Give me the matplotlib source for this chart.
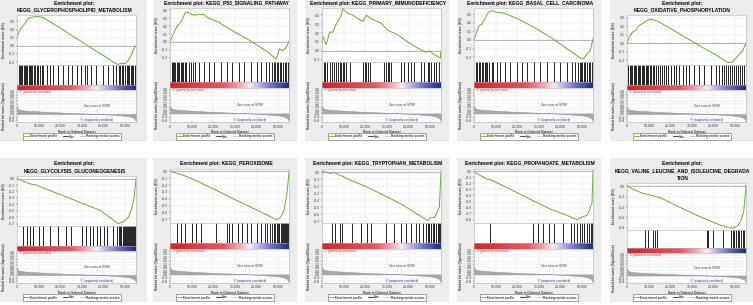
import matplotlib
matplotlib.use("Agg")
import matplotlib.pyplot as plt
from matplotlib.colors import LinearSegmentedColormap
from matplotlib.patches import Rectangle
from matplotlib.lines import Line2D
from matplotlib.ticker import MultipleLocator, FormatStrFormatter, StrMethodFormatter
import numpy as np

W, H = 753, 305
N_GENES = 55000
ZERO_CROSS = 36968

# shared ranked list metric (same dataset in every panel)
metric_rank = [0, 300, 1000, 3000, 6000, 10000, 15000, 20000, 25000, 30000,
               35000, 36968, 40000, 45000, 50000, 52000, 54000, 55000]
metric_value = [0.95, 0.7, 0.55, 0.45, 0.38, 0.32, 0.25, 0.19, 0.13, 0.08,
                0.03, 0.0, -0.04, -0.12, -0.22, -0.3, -0.5, -0.85]

# --- panel data: running enrichment score + hit positions ---
title_1 = "Enrichment plot:\nKEGG_GLYCEROPHOSPHOLIPID_METABOLISM"
es_rank_1 = [0, 800, 2000, 3500, 5000, 6500, 8000, 10000, 12000, 15000, 20000, 25000,
             30000, 35000, 40000, 44000, 46500, 48000, 50000, 51500, 53000, 54000, 55000]
es_1 = [0.10, 0.17, 0.22, 0.27, 0.33, 0.35, 0.36, 0.36, 0.35, 0.30, 0.22, 0.13,
        0.05, -0.04, -0.12, -0.19, -0.23, -0.215, -0.22, -0.18, -0.10, -0.03, 0.0]
hits_1 = [760, 1220, 1830, 2440, 3060, 3510, 4130, 4580, 5350, 5810, 6420, 7030, 7640,
          8250, 9170, 9930, 10700, 11460, 12220, 13750, 15280, 16810, 19100, 21390,
          23680, 25210, 27500, 29800, 31320, 32390, 34380, 36670, 39730, 42020, 44310,
          45840, 47060, 47670, 48590, 49200, 50120, 50730, 51340, 51950, 52720, 53170,
          53790, 54400]

title_2 = "Enrichment plot: KEGG_P53_SIGNALING_PATHWAY"
es_rank_2 = [0, 3100, 5450, 7000, 7800, 10900, 15600, 17100, 21800, 29600, 37400,
             45200, 49100, 50600, 52200, 53700, 55000]
es_2 = [0.01, 0.19, 0.27, 0.37, 0.38, 0.34, 0.35, 0.31, 0.26, 0.13, 0.01,
        -0.13, -0.22, -0.09, -0.11, -0.07, 0.01]
hits_2 = [780, 1250, 1870, 2490, 3120, 3740, 4360, 4990, 5610, 6230, 6860, 7480, 8570,
          9660, 10590, 11690, 13240, 15580, 17920, 20250, 23370, 26170, 28820, 31940,
          34280, 37390, 40200, 42070, 44400, 45960, 47050, 47990, 48610, 49230, 49860,
          50640, 51410, 52190, 52970, 53750, 54530]

title_3 = "Enrichment plot: KEGG_PRIMARY_IMMUNODEFICIENCY"
es_rank_3 = [0, 460, 2000, 3530, 5070, 5840, 7370, 8600, 9680, 11980, 14290, 16590,
             18890, 20430, 22730, 27340, 30410, 35020, 39630, 44240, 48080, 49610,
             51920, 54680, 55000]
es_3 = [0.10, 0.16, 0.07, 0.21, 0.21, 0.26, 0.34, 0.38, 0.47, 0.42, 0.40, 0.36,
        0.33, 0.40, 0.36, 0.31, 0.23, 0.18, 0.10, 0.03, -0.015, 0.0, -0.04, -0.08, 0.0]
hits_3 = [920, 1540, 2460, 3530, 4610, 5530, 6600, 7370, 8140, 8910, 9520, 10140, 11210,
          12750, 18890, 19660, 20430, 21200, 21970, 28880, 29650, 30410, 31180, 31950,
          36560, 38090, 39630, 41160, 42700, 45770, 47310, 48840, 49610, 50380, 51920,
          52690, 54220]

title_4 = "Enrichment plot: KEGG_BASAL_CELL_CARCINOMA"
es_rank_4 = [0, 310, 1240, 2470, 3550, 5100, 6640, 8190, 10500, 13600, 15900, 19800,
             27500, 35200, 42950, 49130, 50670, 52220, 53760, 55000]
es_4 = [0.0, 0.02, 0.09, 0.17, 0.18, 0.25, 0.32, 0.34, 0.32, 0.31, 0.29, 0.25,
        0.15, 0.035, -0.10, -0.21, -0.215, -0.16, -0.12, 0.015]
hits_4 = [930, 1550, 2160, 2780, 3550, 4330, 4940, 5560, 6180, 7110, 8190, 8960, 10510,
          12050, 14370, 16690, 19780, 22090, 24720, 27500, 30590, 33680, 36770, 39860,
          42950, 45270, 46810, 47900, 48820, 49440, 50060, 50680, 51450, 52220, 52990,
          53770, 54540]

title_5 = "Enrichment plot:\nKEGG_OXIDATIVE_PHOSPHORYLATION"
es_rank_5 = [0, 310, 1080, 2620, 4160, 5700, 7240, 9550, 11090, 14170, 18800, 26500,
             34200, 41900, 46540, 48850, 51160, 53470, 55000]
es_5 = [0.0, 0.02, 0.075, 0.13, 0.15, 0.21, 0.23, 0.27, 0.28, 0.26, 0.19, 0.075,
        -0.04, -0.15, -0.23, -0.22, -0.15, -0.09, 0.0]
hits_5 = [620, 1230, 1850, 2470, 3080, 3700, 4310, 4930, 5550, 6160, 6780, 7400, 8010,
          8630, 9250, 9860, 10480, 11100, 11870, 12640, 13410, 14180, 15100, 16030,
          16950, 18030, 19110, 20340, 21570, 22810, 24190, 25730, 27280, 28820, 31130,
          33440, 35750, 38830, 41140, 42690, 43760, 45000, 45920, 46850, 47770, 48700,
          49620, 50540, 51470, 52390, 53320, 54240]

title_6 = "Enrichment plot:\nKEGG_GLYCOLYSIS_GLUCONEOGENESIS"
es_rank_6 = [0, 2780, 5870, 8960, 12050, 22870, 30590, 38310, 46810, 49130, 51450,
             53000, 54070, 55000]
es_6 = [0.0, -0.04, -0.08, -0.10, -0.145, -0.285, -0.39, -0.49, -0.70, -0.67, -0.60,
        -0.47, -0.31, 0.0]
hits_6 = [2780, 4640, 6180, 7420, 10200, 12050, 15140, 19000, 22870, 25180, 29820, 31830,
          33680, 35230, 36770, 38320, 40170, 41720, 44500, 46040, 46970, 47590, 48200,
          48820, 49440, 49900, 50370, 50830, 51290, 51760, 52220, 52680, 53150, 53610,
          54070, 54540]

title_7 = "Enrichment plot: KEGG_PEROXISOME"
es_rank_7 = [0, 3390, 6470, 11090, 21880, 31120, 40370, 48070, 49300, 51150, 52690,
             53920, 54540, 55000]
es_7 = [0.0, -0.03, -0.06, -0.12, -0.285, -0.43, -0.57, -0.69, -0.71, -0.67, -0.57,
        -0.36, -0.17, 0.0]
hits_7 = [3390, 4930, 6780, 10320, 11870, 14180, 21110, 26510, 27280, 28820, 31440,
          33440, 35750, 37290, 40370, 41910, 43760, 44990, 46070, 47150, 48070, 48690,
          49300, 49920, 50540, 51150, 51770, 52230, 52690, 53160, 53620, 54080, 54540,
          54900]

title_8 = "Enrichment plot: KEGG_TRYPTOPHAN_METABOLISM"
es_rank_8 = [0, 775, 2320, 3870, 5420, 8520, 13170, 20910, 28660, 36400, 44150, 48800,
             50350, 51900, 53130, 54230, 55000]
es_8 = [-0.015, 0.02, 0.0, -0.015, 0.0, -0.04, -0.11, -0.21, -0.33, -0.45, -0.60,
        -0.69, -0.65, -0.65, -0.575, -0.50, 0.01]
hits_8 = [4650, 6200, 8210, 9290, 13940, 17810, 20910, 22460, 29430, 33300, 36400, 38720,
          41050, 43370, 44920, 46470, 48020, 48790, 49570, 50340, 51120, 51890, 52670,
          53440, 54220, 54680]

title_9 = "Enrichment plot: KEGG_PROPANOATE_METABOLISM"
es_rank_9 = [0, 2780, 5870, 8190, 19780, 27500, 35230, 42950, 47590, 49900, 52220,
             53460, 54540, 55000]
es_9 = [0.0, -0.065, -0.125, -0.145, -0.35, -0.49, -0.625, -0.73, -0.80, -0.76, -0.73,
        -0.63, -0.52, 0.0]
hits_9 = [7420, 27190, 29360, 31830, 34450, 37080, 41100, 44810, 46040, 47590, 48820,
          49900, 50990, 52220, 53150, 54080, 54690]

title_10 = "Enrichment plot:\nKEGG_VALINE_LEUCINE_AND_ISOLEUCINE_DEGRADA\nTION"
es_rank_10 = [0, 2800, 7480, 10590, 15270, 26180, 33960, 43310, 48760, 51100, 52660,
              53910, 54690, 55000]
es_10 = [0.0, -0.06, -0.14, -0.17, -0.22, -0.44, -0.59, -0.75, -0.81, -0.76, -0.66,
         -0.50, -0.14, 0.01]
hits_10 = [8260, 9500, 12150, 12930, 14020, 36770, 37390, 39880, 44560, 47990, 48770,
           49540, 50320, 51100, 51880, 52660, 53440, 54220]

GREEN = "#66b032"
FONT = "Liberation Sans"
bar_cmap = LinearSegmentedColormap.from_list(
    "gsea", [(0.0, "#d8202c"), (0.45, "#ec5660"), (0.58, "#f6a2b2"), (0.67, "#f6eef4"),
             (0.75, "#b8b3e0"), (0.86, "#6c6cc4"), (1.0, "#1f2a8a")])


def px_rect(x, y, w, h):
    return [x / W, 1 - (y + h) / H, w / W, h / H]


def style_axis(ax):
    for s in ax.spines.values():
        s.set_color("#b0b0b0")
        s.set_linewidth(0.4)
    ax.tick_params(length=1, width=0.3, pad=0.8, labelsize=2.2, colors="#333333")
    ax.set_xlim(0, N_GENES)


def draw_panel(fig, x0, y0, bw, title, es_x, es_y, hits, ylim, ystep):
    fig.add_artist(Rectangle((x0 / W, 1 - (y0 + 144) / H), bw / W, 144 / H,
                             transform=fig.transFigure, facecolor="#ececec",
                             edgecolor="none", zorder=-5))
    lines = title.split("\n")
    for i, ln in enumerate(lines):
        fig.text((x0 + bw / 2 + 1) / W, 1 - (y0 + 6 + 7 * i) / H, ln, ha="center",
                 va="center", fontsize=3.6, fontweight="bold", family=FONT)

    top = y0 + 11 + 7 * (len(lines) - 1)
    bottom = y0 + 125
    left, right = x0 + 17, x0 + 136
    T = bottom - top
    h_es, h_hit, h_cb = 0.47 * T, 0.18 * T, 0.05 * T
    h_rk = T - h_es - h_hit - h_cb

    ax_es = fig.add_axes(px_rect(left, top, right - left, h_es))
    ax_hit = fig.add_axes(px_rect(left, top + h_es, right - left, h_hit))
    ax_cb = fig.add_axes(px_rect(left, top + h_es + h_hit, right - left, h_cb))
    ax_rk = fig.add_axes(px_rect(left, top + h_es + h_hit + h_cb, right - left, h_rk))

    # running enrichment score
    style_axis(ax_es)
    ax_es.plot(es_x, es_y, color=GREEN, lw=0.7)
    ax_es.axhline(0, color="#888888", lw=0.4)
    ax_es.set_ylim(*ylim)
    ax_es.yaxis.set_major_locator(MultipleLocator(ystep))
    ax_es.yaxis.set_major_formatter(FormatStrFormatter("%.1f"))
    ax_es.xaxis.set_major_locator(MultipleLocator(10000))
    ax_es.tick_params(axis="x", labelbottom=False, length=0)
    ax_es.grid(color="#e2e2e2", lw=0.3)
    ax_es.set_axisbelow(True)
    ax_es.set_ylabel("Enrichment score (ES)", fontsize=2.5, labelpad=1.5, family=FONT)

    # hits
    style_axis(ax_hit)
    ax_hit.vlines(hits, 0, 1, color="black", lw=0.6)
    ax_hit.set_ylim(0, 1)
    ax_hit.set_xticks([])
    ax_hit.set_yticks([])

    # ranked list colour bar
    style_axis(ax_cb)
    ax_cb.imshow(np.linspace(0, 1, 256)[None, :], aspect="auto", cmap=bar_cmap,
                 extent=[0, N_GENES, 0, 1])
    ax_cb.set_xticks([])
    ax_cb.set_yticks([])
    ax_cb.set_xlim(0, N_GENES)

    # ranked list metric
    style_axis(ax_rk)
    ax_rk.fill_between(metric_rank, metric_value, 0, color="#a8a8a8", lw=0.3,
                       edgecolor="#8a8a8a")
    ax_rk.set_ylim(-1.0, 3.0)
    ax_rk.yaxis.set_major_locator(MultipleLocator(0.4))
    ax_rk.yaxis.set_major_formatter(FormatStrFormatter("%.1f"))
    ax_rk.xaxis.set_major_locator(MultipleLocator(10000))
    ax_rk.xaxis.set_major_formatter(StrMethodFormatter("{x:,.0f}"))
    ax_rk.grid(color="#e2e2e2", lw=0.3)
    ax_rk.set_axisbelow(True)
    ax_rk.vlines(ZERO_CROSS, 0, 0.75, color="#999999", lw=0.3, linestyles=":")
    ax_rk.text(ZERO_CROSS, 1.0, f"Zero cross at {ZERO_CROSS}", ha="center",
               va="center", fontsize=2.1, color="#333333", family=FONT)
    ax_rk.text(800, 2.95, "'Y' (positively correlated)", ha="left", va="top",
               fontsize=2.1, color="#d8202c", family=FONT)
    ax_rk.text(ZERO_CROSS, -0.75, "'Y' (negatively correlated)", ha="center",
               va="center", fontsize=2.1, color="#2a35a0", family=FONT)
    ax_rk.set_ylabel("Ranked list metric (Signal2Noise)", fontsize=2.3, labelpad=1.5,
                     family=FONT)
    ax_rk.set_xlabel("Rank in Ordered Dataset", fontsize=2.4, labelpad=1, family=FONT)

    handles = [Line2D([], [], color=GREEN, lw=0.6),
               Line2D([], [], color="black", lw=0.5),
               Line2D([], [], color="#bbbbbb", lw=0.6)]
    leg = fig.legend(handles, ["Enrichment profile", "Hits", "Ranking metric scores"],
                     loc="center", bbox_to_anchor=((x0 + 72) / W, 1 - (y0 + 139.5) / H),
                     bbox_transform=fig.transFigure, ncol=3,
                     frameon=True, fancybox=False, borderpad=0.35, handlelength=1.4,
                     handletextpad=0.4, columnspacing=1.6, prop={"family": FONT, "size": 2.4})
    leg.get_frame().set_edgecolor("#444444")
    leg.get_frame().set_linewidth(0.4)


fig = plt.figure(figsize=(W / 100, H / 100), dpi=100)

col_x = [0, 153, 305, 457, 610]
col_w = [147, 144, 144, 144, 143]
row_y = [-3, 158]

panels = [
    (title_1, es_rank_1, es_1, hits_1, (-0.24, 0.38), 0.1),
    (title_2, es_rank_2, es_2, hits_2, (-0.25, 0.43), 0.1),
    (title_3, es_rank_3, es_3, hits_3, (-0.12, 0.48), 0.1),
    (title_4, es_rank_4, es_4, hits_4, (-0.25, 0.37), 0.1),
    (title_5, es_rank_5, es_5, hits_5, (-0.26, 0.33), 0.1),
    (title_6, es_rank_6, es_6, hits_6, (-0.74, 0.04), 0.1),
    (title_7, es_rank_7, es_7, hits_7, (-0.75, 0.035), 0.1),
    (title_8, es_rank_8, es_8, hits_8, (-0.72, 0.05), 0.1),
    (title_9, es_rank_9, es_9, hits_9, (-0.85, 0.04), 0.1),
    (title_10, es_rank_10, es_10, hits_10, (-0.84, 0.06), 0.2),
]

for k, (title, ex, ey, hits, ylim, step) in enumerate(panels):
    r, c = divmod(k, 5)
    draw_panel(fig, col_x[c], row_y[r], col_w[c], title, ex, ey, hits, ylim, step)

fig.savefig("out.png", dpi=100)
